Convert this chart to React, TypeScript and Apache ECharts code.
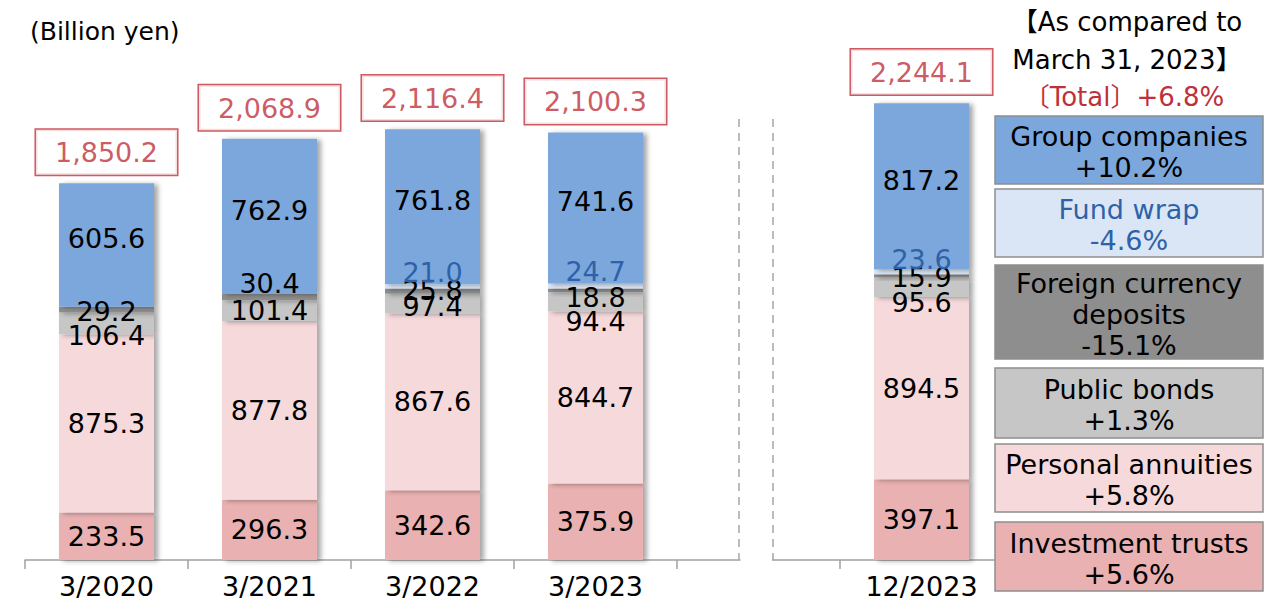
import React, { useEffect, useRef } from "react";
import * as echarts from "echarts";

const categories = ["3/2020", "3/2021", "3/2022", "3/2023", "", "12/2023"];
const investmentTrusts = [233.5, 296.3, 342.6, 375.9, null, 397.1];
const personalAnnuities = [875.3, 877.8, 867.6, 844.7, null, 894.5];
const publicBonds = [106.4, 101.4, 97.4, 94.4, null, 95.6];
const foreignCurrencyDeposits = [29.2, 30.4, 25.8, 18.8, null, 15.9];
const fundWrap = [null, null, 21.0, 24.7, null, 23.6];
const groupCompanies = [605.6, 762.9, 761.8, 741.6, null, 817.2];
const totals = [1850.2, 2068.9, 2116.4, 2100.3, null, 2244.1];

const seriesNames = [
  "Investment trusts",
  "Personal annuities",
  "Public bonds",
  "Foreign currency deposits",
  "Fund wrap",
  "Group companies",
];
const changeTexts = ["+5.6%", "+5.8%", "+1.3%", "-15.1%", "-4.6%", "+10.2%"];
const totalChange = "〔Total〕+6.8%";

const FONT = "'DejaVu Sans', 'Noto Sans CJK JP', sans-serif";
const RED = "#C0303A";
const BLUE_TEXT = "#2E62A8";
const colors = ["#E9B1B1", "#F5D9DB", "#C6C6C6", "#8E8E8E", "#DAE6F5", "#7BA7DC"];

// label vertical nudges (px) to reproduce the hand-placed labels
const labelNudges: number[][] = [
  [0, 0, 0, 0, 0, 0],
  [0, 0, 0, 0, 0, 0],
  [12, 0, 3, 20, 0, 15],
  [2, -14, -1, 7, 0, 2],
  [0, 0, -14, -14, 0, -12],
  [-6, -6, -6, -6, 0, -6],
];

const seriesData = [
  investmentTrusts,
  personalAnnuities,
  publicBonds,
  foreignCurrencyDeposits,
  fundWrap,
  groupCompanies,
];

// legend box layout (top, bottom) from bottom series upward
const legendBoxes: [number, number][] = [
  [522, 591],
  [444, 512],
  [368, 438],
  [265, 359],
  [189, 257],
  [116, 184],
];

export default function App() {
  const ref = useRef<HTMLDivElement>(null);
  useEffect(() => {
    if (!ref.current) return;
    const chart = echarts.init(ref.current, null, { renderer: "svg" });

    const barSeries = seriesData.map((arr, si) => ({
      name: seriesNames[si],
      type: "bar",
      stack: "total",
      barWidth: 95,
      data: arr.map((v, i) => ({
        value: v,
        label: { offset: [0, labelNudges[si][i]] },
      })),
      itemStyle: {
        color: colors[si],
        shadowColor: "rgba(0,0,0,0.35)",
        shadowBlur: 5,
        shadowOffsetX: 4,
        shadowOffsetY: 1,
      },
      label: {
        show: true,
        position: "inside",
        fontFamily: FONT,
        fontSize: 27,
        color: si === 4 ? BLUE_TEXT : "#000",
        formatter: (p: any) =>
          p.value == null ? "" : Number(p.value).toFixed(1),
      },
      z: 2,
    }));

    const legendGraphics: any[] = [];
    legendBoxes.forEach(([top, bottom], si) => {
      legendGraphics.push({
        type: "rect",
        shape: { x: 995, y: top, width: 268, height: bottom - top },
        style: { fill: colors[si], stroke: "#8F8F8F", lineWidth: 1.5 },
        z: 10,
      });
      const name =
        si === 3 ? "Foreign currency\ndeposits" : seriesNames[si];
      legendGraphics.push({
        type: "text",
        x: 1129,
        y: (top + bottom) / 2 + 2,
        style: {
          text: name + "\n" + changeTexts[si],
          fontFamily: FONT,
          fontSize: 27,
          lineHeight: 31,
          fill: si === 4 ? BLUE_TEXT : "#000",
          textAlign: "center",
          textVerticalAlign: "middle",
        },
        z: 11,
      });
    });

    chart.setOption({
      animation: false,
      grid: { left: 25, right: 264, top: 51, bottom: 45 },
      xAxis: {
        type: "category",
        data: categories,
        axisLine: { lineStyle: { color: "#A0A0A0", width: 1.5 } },
        axisTick: { show: true, length: 9, lineStyle: { color: "#A0A0A0", width: 1.5 } },
        axisLabel: {
          fontFamily: FONT,
          fontSize: 27,
          color: "#000",
          margin: 13,
          interval: 0,
        },
      },
      yAxis: {
        type: "value",
        min: 0,
        max: 2500,
        show: false,
        splitLine: { show: false },
      },
      series: [
        ...barSeries,
        {
          name: "Total",
          type: "scatter",
          data: totals,
          symbolSize: 1,
          itemStyle: { color: "rgba(0,0,0,0)" },
          label: {
            show: true,
            position: "top",
            distance: 8,
            fontFamily: FONT,
            fontSize: 27,
            color: RED,
            backgroundColor: "#fff",
            borderColor: RED,
            borderWidth: 1.5,
            padding: [8, 19, 7, 19],
            lineHeight: 30,
            formatter: (p: any) =>
              p.value == null
                ? ""
                : Number(p.value).toLocaleString("en-US", {
                    minimumFractionDigits: 1,
                    maximumFractionDigits: 1,
                  }),
          },
          z: 5,
        },
      ],
      graphic: [
        {
          type: "text",
          left: 30,
          top: 19,
          style: {
            text: "(Billion yen)",
            fontFamily: FONT,
            fontSize: 25,
            fill: "#000",
          },
        },
        {
          type: "text",
          x: 1127,
          y: 41,
          style: {
            text: "【As compared to\nMarch 31, 2023】",
            fontFamily: FONT,
            fontSize: 26,
            lineHeight: 38,
            fill: "#000",
            textAlign: "center",
            textVerticalAlign: "middle",
          },
        },
        {
          type: "text",
          x: 1124,
          y: 97,
          style: {
            text: totalChange,
            fontFamily: FONT,
            fontSize: 26,
            fill: RED,
            textAlign: "center",
            textVerticalAlign: "middle",
          },
        },
        {
          type: "rect",
          shape: { x: 740.5, y: 556, width: 31.5, height: 7 },
          style: { fill: "#fff" },
          z: 9,
        },
        {
          type: "line",
          shape: { x1: 739, y1: 119, x2: 739, y2: 560 },
          style: { stroke: "#A6A6A6", lineWidth: 1.5, lineDash: [8, 6] },
          z: 10,
        },
        {
          type: "line",
          shape: { x1: 773, y1: 119, x2: 773, y2: 560 },
          style: { stroke: "#A6A6A6", lineWidth: 1.5, lineDash: [8, 6] },
          z: 10,
        },
        ...legendGraphics,
      ],
    });
    return () => chart.dispose();
  }, []);

  return (
    <div
      ref={ref}
      style={{ position: "fixed", left: 0, top: 0, width: 1267, height: 605, background: "#fff" }}
    />
  );
}
